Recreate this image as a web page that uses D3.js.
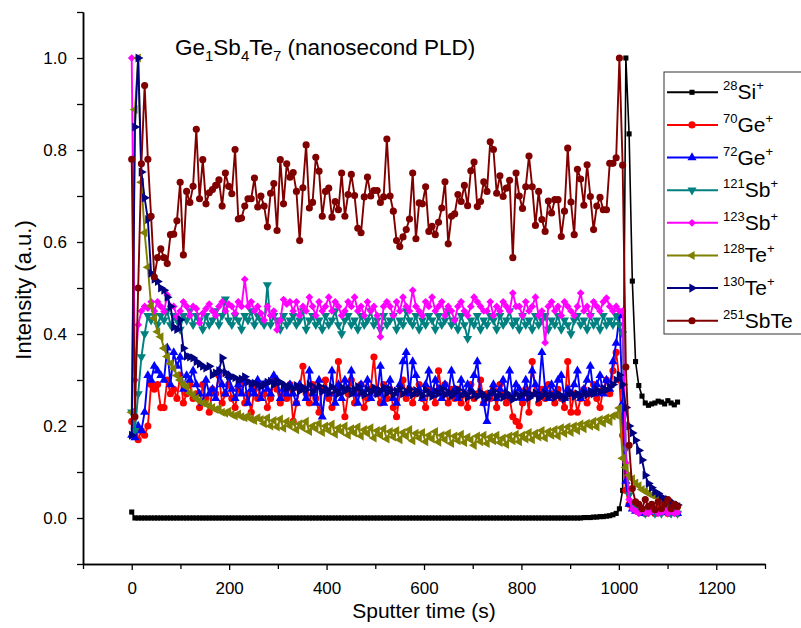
<!DOCTYPE html>
<html>
<head>
<meta charset="utf-8">
<script src="https://cdn.jsdelivr.net/npm/d3@7"></script>
<style>
  body { margin: 0; background: #fff; }
  text { font-family: Arial, "Liberation Sans", sans-serif; fill: #000; }
</style>
</head>
<body>
<svg width="801" height="628"></svg>
<script>
// sampling grid of the depth profile (s)
const tStart = 0, tStep = 6.63, nPts = 170;
const times = d3.range(nPts).map(i => tStart + i * tStep);

// intensities, normalised (a.u.), one value per sample
const si28 = [
  0.013,0,0,0,0,0,0,0,0,0, 0,0,0,0,0,0,0,0,0,0,
  0,0,0,0,0,0,0,0,0,0, 0,0,0,0,0,0,0,0,0,0,
  0,0,0,0,0,0,0,0,0,0, 0,0,0,0,0,0,0,0,0,0,
  0,0,0,0,0,0,0,0,0,0, 0,0,0,0,0,0,0,0,0,0,
  0,0,0,0,0,0,0,0,0,0, 0,0,0,0,0,0,0,0,0,0,
  0,0,0,0,0,0,0,0,0,0, 0,0,0,0,0,0,0,0,0,0,
  0,0,0,0,0,0,0,0,0,0, 0,0,0,0,0,0,0,0,0,0,
  0.001,0.001,0.001,0.002,0.002,0.003,0.003,0.004,0.005,0.007,
  0.01,0.02,0.06,1.0,0.835,0.515,0.34,0.288,0.265,0.25,
  0.245,0.248,0.25,0.254,0.252,0.248,0.255,0.25,0.246,0.252
];
const ge70 = [
  0.21,0.18,0.17,0.19,0.18,0.20,0.29,0.28,0.29,0.24,
  0.24,0.30,0.27,0.28,0.26,0.31,0.25,0.27,0.29,0.26,
  0.27,0.24,0.29,0.26,0.23,0.28,0.27,0.31,0.25,0.27,
  0.29,0.26,0.24,0.28,0.30,0.25,0.27,0.23,0.28,0.26,
  0.29,0.27,0.24,0.26,0.30,0.28,0.25,0.27,0.26,0.29,
  0.21,0.25,0.28,0.33,0.27,0.25,0.29,0.26,0.23,0.28,
  0.30,0.26,0.24,0.27,0.34,0.28,0.22,0.27,0.30,0.25,
  0.27,0.29,0.24,0.26,0.28,0.35,0.27,0.25,0.29,0.26,
  0.28,0.24,0.22,0.27,0.30,0.26,0.28,0.25,0.27,0.29,
  0.26,0.24,0.28,0.27,0.25,0.32,0.27,0.29,0.25,0.28,
  0.26,0.28,0.25,0.27,0.24,0.29,0.26,0.27,0.30,0.25,
  0.27,0.26,0.28,0.24,0.29,0.27,0.25,0.26,0.22,0.21,
  0.20,0.25,0.28,0.23,0.34,0.27,0.25,0.28,0.26,0.29,
  0.27,0.25,0.28,0.26,0.24,0.34,0.23,0.27,0.23,0.26,
  0.28,0.25,0.27,0.29,0.26,0.24,0.28,0.30,0.27,0.32,
  0.36,0.30,0.18,0.06,0.03,0.025,0.02,0.015,0.02,0.01,
  0.02,0.015,0.01,0.02,0.012,0.018,0.01,0.015,0.02,0.01
];
const ge72 = [
  0.18,0.175,0.20,0.19,0.23,0.31,0.30,0.33,0.32,0.31,
  0.30,0.37,0.29,0.36,0.33,0.35,0.28,0.31,0.30,0.32,
  0.29,0.27,0.25,0.30,0.27,0.28,0.26,0.32,0.29,0.27,
  0.31,0.28,0.26,0.29,0.27,0.30,0.25,0.28,0.27,0.30,
  0.26,0.29,0.28,0.27,0.31,0.30,0.26,0.28,0.27,0.29,
  0.27,0.25,0.29,0.28,0.26,0.32,0.27,0.25,0.30,0.22,
  0.28,0.27,0.32,0.25,0.29,0.26,0.30,0.28,0.32,0.27,
  0.25,0.29,0.27,0.30,0.26,0.28,0.27,0.33,0.25,0.28,
  0.30,0.26,0.25,0.29,0.34,0.36,0.27,0.34,0.31,0.28,
  0.26,0.29,0.32,0.27,0.30,0.28,0.26,0.29,0.27,0.32,
  0.28,0.26,0.30,0.27,0.29,0.28,0.31,0.34,0.27,0.25,
  0.21,0.27,0.29,0.26,0.28,0.30,0.27,0.32,0.26,0.29,
  0.28,0.26,0.30,0.27,0.32,0.29,0.27,0.36,0.28,0.26,
  0.29,0.27,0.30,0.31,0.26,0.28,0.27,0.29,0.32,0.26,
  0.28,0.30,0.33,0.27,0.29,0.31,0.27,0.30,0.28,0.34,
  0.38,0.44,0.25,0.08,0.03,0.02,0.015,0.02,0.01,0.015,
  0.02,0.012,0.018,0.01,0.015,0.02,0.012,0.01,0.015,0.01
];
const sb121 = [
  0.23,0.19,0.27,0.35,0.40,0.44,0.43,0.44,0.42,0.44,
  0.43,0.45,0.42,0.44,0.43,0.41,0.44,0.43,0.45,0.42,
  0.44,0.43,0.41,0.44,0.42,0.43,0.45,0.42,0.44,0.476,
  0.43,0.42,0.44,0.43,0.41,0.44,0.43,0.45,0.42,0.44,
  0.43,0.42,0.507,0.42,0.44,0.43,0.41,0.44,0.42,0.43,
  0.44,0.42,0.43,0.45,0.41,0.43,0.44,0.42,0.43,0.41,
  0.44,0.42,0.43,0.45,0.42,0.40,0.43,0.44,0.42,0.43,
  0.41,0.44,0.42,0.43,0.45,0.42,0.43,0.41,0.44,0.42,
  0.43,0.44,0.41,0.43,0.42,0.45,0.43,0.42,0.44,0.41,
  0.43,0.42,0.44,0.43,0.41,0.44,0.42,0.43,0.45,0.42,
  0.43,0.41,0.44,0.42,0.39,0.43,0.42,0.44,0.41,0.43,
  0.42,0.44,0.43,0.41,0.44,0.42,0.43,0.45,0.42,0.43,
  0.41,0.44,0.42,0.43,0.41,0.44,0.42,0.43,0.44,0.41,
  0.43,0.42,0.44,0.41,0.43,0.42,0.40,0.43,0.44,0.42,
  0.43,0.41,0.44,0.42,0.43,0.41,0.44,0.42,0.43,0.42,
  0.44,0.42,0.40,0.15,0.05,0.03,0.02,0.015,0.02,0.01,
  0.015,0.02,0.01,0.015,0.01,0.02,0.012,0.01,0.015,0.01
];
const sb123 = [
  1.0,0.30,0.42,0.45,0.46,0.456,0.47,0.45,0.47,0.46,
  0.449,0.485,0.46,0.46,0.438,0.45,0.47,0.46,0.44,0.46,
  0.455,0.424,0.445,0.455,0.465,0.45,0.44,0.46,0.47,0.45,
  0.465,0.46,0.445,0.47,0.46,0.519,0.46,0.47,0.45,0.46,
  0.445,0.43,0.46,0.44,0.45,0.409,0.43,0.475,0.465,0.47,
  0.45,0.47,0.44,0.46,0.45,0.48,0.46,0.44,0.47,0.45,
  0.46,0.48,0.45,0.47,0.46,0.44,0.45,0.47,0.46,0.48,
  0.45,0.46,0.44,0.47,0.45,0.46,0.44,0.394,0.46,0.47,
  0.46,0.44,0.47,0.45,0.48,0.46,0.45,0.495,0.46,0.45,
  0.44,0.47,0.46,0.48,0.45,0.46,0.47,0.44,0.46,0.45,
  0.43,0.46,0.47,0.45,0.44,0.46,0.48,0.47,0.46,0.45,
  0.45,0.47,0.44,0.46,0.45,0.47,0.46,0.45,0.489,0.46,
  0.46,0.44,0.47,0.45,0.46,0.48,0.44,0.45,0.381,0.46,
  0.47,0.45,0.46,0.44,0.47,0.46,0.45,0.44,0.46,0.489,
  0.45,0.46,0.44,0.47,0.46,0.45,0.47,0.478,0.46,0.45,
  0.46,0.45,0.45,0.12,0.04,0.02,0.015,0.01,0.02,0.012,
  0.01,0.015,0.02,0.01,0.012,0.018,0.01,0.015,0.01,0.012
];
const te128 = [
  0.23,0.888,1.0,0.73,0.62,0.545,0.461,0.434,0.405,0.394,
  0.369,0.351,0.336,0.325,0.31,0.30,0.29,0.285,0.272,0.268,
  0.26,0.255,0.25,0.248,0.244,0.24,0.236,0.238,0.23,0.228,
  0.232,0.225,0.222,0.226,0.22,0.218,0.222,0.215,0.212,0.218,
  0.214,0.205,0.218,0.2,0.212,0.198,0.215,0.195,0.21,0.2,
  0.208,0.192,0.205,0.196,0.21,0.188,0.2,0.194,0.206,0.186,
  0.2,0.19,0.204,0.182,0.196,0.188,0.2,0.18,0.194,0.185,
  0.198,0.178,0.192,0.184,0.196,0.174,0.19,0.18,0.194,0.172,
  0.188,0.176,0.19,0.17,0.186,0.178,0.192,0.168,0.184,0.174,
  0.186,0.166,0.18,0.172,0.188,0.165,0.18,0.17,0.184,0.162,
  0.178,0.168,0.182,0.164,0.176,0.17,0.158,0.178,0.166,0.18,
  0.162,0.176,0.168,0.18,0.164,0.174,0.16,0.178,0.168,0.182,
  0.166,0.18,0.172,0.186,0.17,0.184,0.176,0.19,0.174,0.188,
  0.18,0.192,0.178,0.196,0.184,0.198,0.186,0.2,0.19,0.204,
  0.194,0.206,0.2,0.21,0.198,0.214,0.206,0.218,0.21,0.222,
  0.224,0.239,0.13,0.11,0.093,0.085,0.076,0.07,0.062,0.058,
  0.054,0.05,0.048,0.044,0.04,0.036,0.033,0.03,0.027,0.025
];
const te130 = [
  0.18,0.85,1.0,0.752,0.696,0.649,0.532,0.519,0.514,0.50,
  0.495,0.48,0.46,0.415,0.41,0.431,0.369,0.352,0.35,0.348,
  0.34,0.335,0.33,0.326,0.33,0.311,0.315,0.32,0.348,0.316,
  0.31,0.307,0.305,0.30,0.302,0.307,0.296,0.293,0.293,0.29,
  0.286,0.29,0.295,0.297,0.29,0.297,0.295,0.29,0.283,0.285,
  0.28,0.288,0.276,0.284,0.279,0.29,0.274,0.282,0.287,0.275,
  0.281,0.272,0.285,0.278,0.27,0.284,0.276,0.281,0.27,0.279,
  0.286,0.275,0.268,0.28,0.274,0.283,0.27,0.277,0.284,0.272,
  0.279,0.268,0.276,0.282,0.27,0.275,0.28,0.268,0.277,0.272,
  0.266,0.278,0.272,0.264,0.276,0.27,0.281,0.268,0.274,0.265,
  0.272,0.279,0.266,0.271,0.262,0.275,0.268,0.264,0.273,0.267,
  0.26,0.27,0.276,0.264,0.268,0.262,0.272,0.266,0.258,0.27,
  0.264,0.268,0.273,0.261,0.267,0.272,0.26,0.266,0.271,0.263,
  0.268,0.262,0.27,0.265,0.259,0.268,0.272,0.264,0.27,0.266,
  0.273,0.268,0.276,0.27,0.279,0.274,0.282,0.278,0.285,0.29,
  0.30,0.311,0.29,0.24,0.20,0.185,0.169,0.147,0.126,0.093,
  0.075,0.066,0.057,0.053,0.045,0.042,0.04,0.034,0.03,0.028
];
const sbte251 = [
  0.78,0.22,0.50,0.77,0.94,0.78,0.656,0.524,0.566,0.585,
  0.566,0.553,0.616,0.617,0.646,0.73,0.572,0.71,0.686,0.721,
  0.845,0.694,0.779,0.683,0.707,0.714,0.723,0.735,0.678,0.75,
  0.721,0.705,0.801,0.65,0.652,0.678,0.694,0.694,0.739,0.676,
  0.70,0.678,0.633,0.706,0.727,0.625,0.779,0.683,0.77,0.741,
  0.751,0.71,0.603,0.718,0.811,0.674,0.686,0.784,0.754,0.656,
  0.71,0.717,0.654,0.688,0.670,0.75,0.656,0.703,0.747,0.701,
  0.63,0.62,0.698,0.741,0.70,0.712,0.712,0.686,0.698,0.824,
  0.70,0.667,0.603,0.59,0.611,0.627,0.65,0.75,0.607,0.685,
  0.683,0.72,0.623,0.634,0.616,0.643,0.674,0.731,0.596,0.656,
  0.661,0.703,0.688,0.723,0.679,0.755,0.774,0.677,0.688,0.731,
  0.71,0.818,0.801,0.706,0.744,0.699,0.717,0.734,0.566,0.75,
  0.70,0.673,0.72,0.787,0.72,0.636,0.71,0.649,0.623,0.689,
  0.663,0.692,0.692,0.612,0.667,0.804,0.687,0.616,0.758,0.737,
  0.68,0.768,0.699,0.627,0.678,0.697,0.67,0.67,0.771,0.771,
  0.783,1.0,0.767,0.328,0.158,0.064,0.035,0.03,0.02,0.04,
  0.025,0.03,0.018,0.035,0.02,0.03,0.04,0.02,0.03,0.025
];

// legend labels: mass number, element, charge
const massNumbers = ["28", "70", "72", "121", "123", "128", "130", "251"];
const elements = ["Si", "Ge", "Ge", "Sb", "Sb", "Te", "Te", "SbTe"];
const charges = ["+", "+", "+", "+", "+", "+", "+", ""];

const xTicks = [0, 200, 400, 600, 800, 1000, 1200];
const xMinorTicks = [-100, 100, 300, 500, 700, 900, 1100, 1300];
const yTicks = [0, 0.2, 0.4, 0.6, 0.8, 1.0];
const yMinorTicks = [-0.1, 0.1, 0.3, 0.5, 0.7, 0.9, 1.1];

const svg = d3.select("svg");

const x = d3.scaleLinear().domain([-100, 1300]).range([83, 765]);
const y = d3.scaleLinear().domain([-0.1, 1.1]).range([564, 12]);

// how each series looks (Origin default order)
const series = [
  { values: si28,    color: "#000000", shape: d3.symbolSquare,   rot: 0,   size: 26 },
  { values: ge70,    color: "#FF0000", shape: d3.symbolCircle,   rot: 0,   size: 40 },
  { values: ge72,    color: "#0000FF", shape: d3.symbolTriangle, rot: 0,   size: 36 },
  { values: sb121,   color: "#008080", shape: d3.symbolTriangle, rot: 180, size: 36 },
  { values: sb123,   color: "#FF00FF", shape: d3.symbolSquare,   rot: 45,  size: 30 },
  { values: te128,   color: "#808000", shape: d3.symbolTriangle, rot: -90, size: 36 },
  { values: te130,   color: "#000080", shape: d3.symbolTriangle, rot: 90,  size: 36 },
  { values: sbte251, color: "#800000", shape: d3.symbolCircle,   rot: 0,   size: 40 }
];

// axes
const axisStyle = g => {
  g.select(".domain").attr("stroke", "#000").attr("stroke-width", 1.5);
  g.selectAll(".tick line").attr("stroke", "#000").attr("stroke-width", 1.3);
  g.selectAll(".tick text").style("font-size", "17px").style("font-family", "Arial, 'Liberation Sans', sans-serif");
};

svg.append("g")
  .attr("transform", "translate(0,564)")
  .call(d3.axisBottom(x).tickValues(xMinorTicks).tickFormat("").tickSize(5).tickSizeOuter(0))
  .call(axisStyle);
svg.append("g")
  .attr("transform", "translate(0,564)")
  .call(d3.axisBottom(x).tickValues(xTicks).tickFormat(d3.format("d")).tickSize(6).tickPadding(12).tickSizeOuter(0))
  .call(axisStyle);

svg.append("g")
  .attr("transform", "translate(83,0)")
  .call(d3.axisLeft(y).tickValues(yMinorTicks).tickFormat("").tickSize(6).tickSizeOuter(0))
  .call(axisStyle);
svg.append("g")
  .attr("transform", "translate(83,0)")
  .call(d3.axisLeft(y).tickValues(yTicks).tickFormat(d3.format(".1f")).tickSize(6).tickPadding(10).tickSizeOuter(0))
  .call(axisStyle);

// axis titles
svg.append("text")
  .attr("x", 424).attr("y", 618)
  .attr("text-anchor", "middle")
  .style("font-size", "21px")
  .text("Sputter time (s)");

svg.append("text")
  .attr("transform", "translate(31,290) rotate(-90)")
  .attr("text-anchor", "middle")
  .style("font-size", "22px")
  .text("Intensity (a.u.)");

// title with subscripts
const title = svg.append("text").attr("x", 175).attr("y", 55).style("font-size", "22.5px");
[["Ge", 0], ["1", 1], ["Sb", 0], ["4", 1], ["Te", 0], ["7", 1], [" (nanosecond PLD)", 0]]
  .forEach(([s, sub], i, arr) => {
    const prevSub = i > 0 ? arr[i - 1][1] : 0;
    title.append("tspan")
      .attr("dy", sub === prevSub ? 0 : (sub ? 6 : -6))
      .style("font-size", sub ? "15px" : "22.5px")
      .text(s);
  });

// data
const line = d3.line()
  .x((d, i) => x(times[i]))
  .y(d => y(d));

series.forEach(s => {
  const g = svg.append("g");
  g.append("path")
    .datum(s.values)
    .attr("d", line)
    .attr("fill", "none")
    .attr("stroke", s.color)
    .attr("stroke-width", s.color === "#000000" ? 1.6 : 1.9)
    .attr("stroke-linejoin", "round");
  const sym = d3.symbol().type(s.shape).size(s.size)();
  g.selectAll(".mk")
    .data(s.values)
    .join("path")
    .attr("class", "mk")
    .attr("transform", (d, i) => `translate(${x(times[i])},${y(d)}) rotate(${s.rot})`)
    .attr("d", sym)
    .attr("fill", s.color);
});

// legend
const legend = svg.append("g");
legend.append("rect")
  .attr("x", 664).attr("y", 72)
  .attr("width", 150).attr("height", 262)
  .attr("fill", "#fff")
  .attr("stroke", "#333").attr("stroke-width", 1);

const rowY = d3.scaleLinear().domain([0, 7]).range([92.3, 320.7]);

series.forEach((s, i) => {
  const ry = rowY(i);
  legend.append("line")
    .attr("x1", 667).attr("x2", 718).attr("y1", ry).attr("y2", ry)
    .attr("stroke", s.color).attr("stroke-width", 2);
  legend.append("path")
    .attr("transform", `translate(692,${ry}) rotate(${s.rot})`)
    .attr("d", d3.symbol().type(s.shape).size(s.size)())
    .attr("fill", s.color);
  const t = legend.append("text").attr("x", 723).attr("y", ry + 7);
  t.append("tspan").attr("dy", -9).style("font-size", "13px").text(massNumbers[i]);
  t.append("tspan").attr("dy", 9).style("font-size", "21px").text(elements[i]);
  if (charges[i]) t.append("tspan").attr("dy", -9).style("font-size", "13px").text(charges[i]);
});
</script>
</body>
</html>
